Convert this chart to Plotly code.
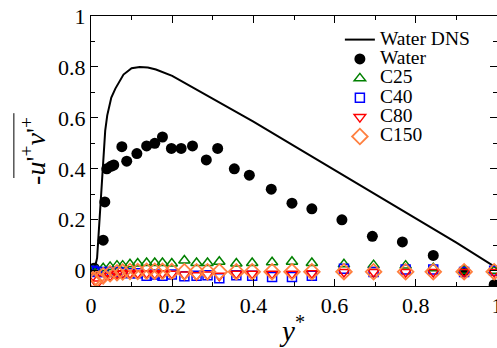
import plotly.graph_objects as go

# ---------------- data ----------------
dns_x = [0, 0.01, 0.015, 0.02, 0.025, 0.03, 0.035, 0.04, 0.05, 0.06, 0.07, 0.08,
         0.1, 0.12, 0.14, 0.16, 0.2, 0.3, 0.4, 0.5, 0.6, 0.7, 0.8, 0.9, 1.0]
dns_y = [0, 0.015, 0.05, 0.18, 0.33, 0.46, 0.55, 0.61, 0.68, 0.715, 0.745, 0.77,
         0.795, 0.80, 0.798, 0.79, 0.765, 0.675, 0.585, 0.49, 0.395, 0.30, 0.205, 0.11, 0.01]

water_x = [0.0, 0.008, 0.03, 0.034, 0.039, 0.049, 0.056, 0.076, 0.088, 0.113, 0.137,
           0.157, 0.176, 0.198, 0.222, 0.25, 0.284, 0.312, 0.353, 0.39, 0.444, 0.495,
           0.544, 0.618, 0.693, 0.767, 0.843, 0.919, 0.993]
water_y = [0.0, 0.01, 0.12, 0.27, 0.40, 0.41, 0.415, 0.487, 0.43, 0.46, 0.49,
           0.50, 0.525, 0.48, 0.48, 0.49, 0.435, 0.48, 0.40, 0.375, 0.32, 0.265,
           0.243, 0.20, 0.135, 0.113, 0.06, 0.0, -0.055]

c_x = [0.005, 0.015, 0.03, 0.047, 0.064, 0.078, 0.096, 0.115, 0.137, 0.157, 0.176,
       0.199, 0.23, 0.26, 0.287, 0.316, 0.358, 0.397, 0.446, 0.495, 0.544, 0.623,
       0.696, 0.775, 0.843, 0.919, 0.993]
c25_y = [0.0, 0.0, 0.01, 0.015, 0.02, 0.02, 0.025, 0.028, 0.03, 0.03, 0.03,
         0.028, 0.04, 0.03, 0.03, 0.035, 0.028, 0.03, 0.033, 0.035, 0.03, 0.025,
         0.022, 0.02, 0.01, 0.0, 0.0]
c40_y = [0.0, -0.005, -0.005, -0.005, -0.005, -0.008, -0.01, -0.01, -0.02, -0.015, -0.02,
         -0.015, -0.022, -0.02, -0.018, -0.03, -0.018, -0.02, -0.025, -0.025, -0.02, 0.008,
         -0.005, 0.005, 0.005, -0.005, 0.0]
c80_y = [-0.02, -0.05, -0.03, -0.02, -0.012, -0.01, -0.01, -0.01, -0.01, -0.012, -0.01,
         -0.012, -0.015, -0.018, -0.015, -0.02, -0.012, -0.012, -0.012, -0.012, -0.01, -0.005,
         -0.005, -0.005, -0.005, -0.005, -0.005]
c150_y = [-0.035, -0.03, -0.02, -0.012, -0.008, -0.005, -0.003, -0.003, -0.002, -0.002, -0.002,
          -0.003, -0.004, -0.004, -0.004, -0.004, -0.004, -0.004, -0.004, -0.004, -0.004, -0.004,
          -0.004, -0.004, -0.004, -0.004, -0.004]

x_ticks = [0, 0.2, 0.4, 0.6, 0.8, 1]
y_ticks = [0, 0.2, 0.4, 0.6, 0.8, 1]

FONT = "Liberation Serif"


def lname(s):
    return '<span style="font-size:19.5px">' + s + '</span>'


fig = go.Figure()
fig.add_trace(go.Scatter(x=dns_x, y=dns_y, mode="lines", name=lname("Water DNS"),
                         line=dict(color="black", width=2)))
fig.add_trace(go.Scatter(x=water_x, y=water_y, mode="markers", name=lname("Water"),
                         marker=dict(symbol="circle", size=11, color="black")))
fig.add_trace(go.Scatter(x=c_x, y=c25_y, mode="markers", name=lname("C25"),
                         marker=dict(symbol="triangle-up-open", size=10, color="#008000",
                                     line=dict(width=1.5))))
fig.add_trace(go.Scatter(x=c_x, y=c40_y, mode="markers", name=lname("C40"),
                         marker=dict(symbol="square-open", size=9, color="#0000FF",
                                     line=dict(width=1.5))))
fig.add_trace(go.Scatter(x=c_x, y=c80_y, mode="markers", name=lname("C80"),
                         marker=dict(symbol="triangle-down-open", size=10, color="#FF0000",
                                     line=dict(width=1.5))))
fig.add_trace(go.Scatter(x=c_x, y=c150_y, mode="markers", name=lname("C150"),
                         marker=dict(symbol="diamond-open", size=12, color="#FF8040",
                                     line=dict(width=1.8))))

axis_common = dict(
    showline=True, linecolor="black", linewidth=1, mirror="ticks",
    ticks="inside", ticklen=7, tickcolor="black", tickwidth=1,
    showgrid=False, zeroline=False,
    tickfont=dict(family=FONT, size=22, color="black"),
    minor=dict(ticks="inside", ticklen=4, tickcolor="black", dtick=0.1),
    ticklabeloverflow="allow",
)

fig.update_xaxes(range=[0, 1], tickvals=x_ticks, automargin=False, **axis_common)
fig.update_yaxes(range=[-0.06, 1], tickvals=y_ticks, automargin=False, **axis_common)

fig.update_layout(
    width=497, height=348,
    margin=dict(l=91, r=0, t=16, b=62),
    plot_bgcolor="white", paper_bgcolor="white",
    font=dict(family=FONT, color="black"),
    showlegend=True,
    legend=dict(x=0.613, y=0.967, xanchor="left", yanchor="top",
                bgcolor="rgba(0,0,0,0)", font=dict(family=FONT, size=12.6),
                tracegroupgap=0),
    annotations=[
        dict(text="-<i>u</i>'<sup>+</sup><i>v</i>'<sup>+</sup>",
             xref="paper", yref="paper", x=-0.143, y=0.5, xanchor="center", yanchor="middle",
             textangle=-90, showarrow=False, font=dict(family=FONT, size=28)),
        dict(text="<i>y</i><sup>*</sup>", xref="paper", yref="paper",
             x=0.495, y=-0.159, xanchor="center", yanchor="middle",
             showarrow=False, font=dict(family=FONT, size=29)),
    ],
    shapes=[
        dict(type="line", xref="paper", yref="paper", x0=-0.19, x1=-0.19,
             y0=0.40, y1=0.64, line=dict(color="black", width=1)),
    ],
)

fig.write_html("out.html")
